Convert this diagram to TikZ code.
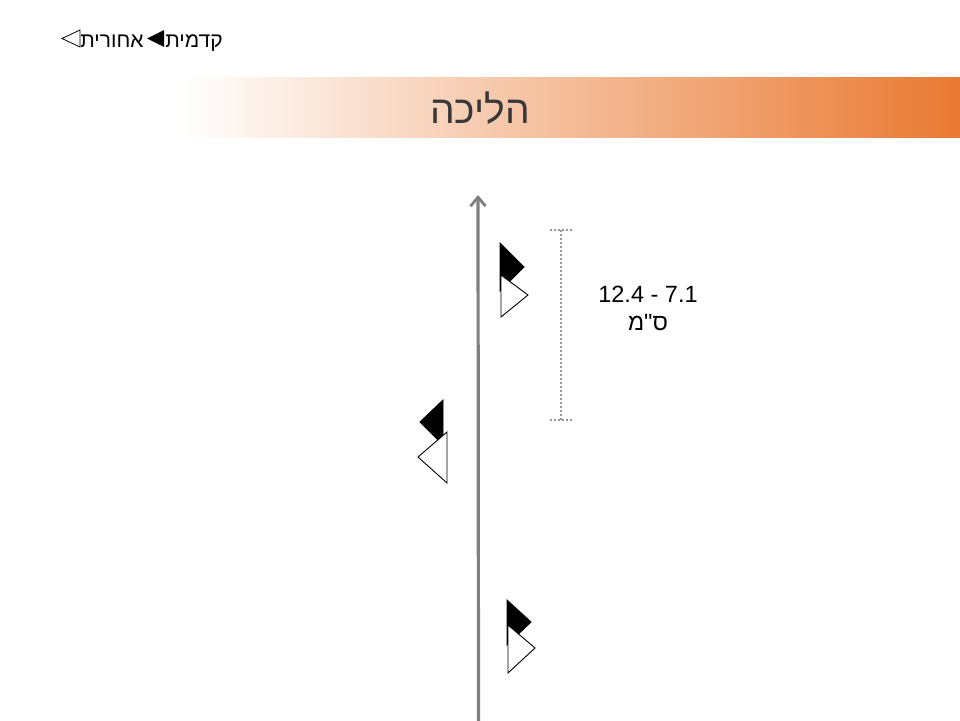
\documentclass[tikz,border=0pt]{standalone}
\usepackage{fontspec}
\setmainfont{Liberation Sans}
\newfontfamily\hebfont[Script=Hebrew]{Liberation Sans}
\usetikzlibrary{arrows.meta}
\TeXXeTstate=1
\definecolor{bannerorange}{RGB}{233,121,50}
\definecolor{axisgray}{RGB}{128,128,128}
\definecolor{dotgray}{RGB}{150,150,150}
\definecolor{titlegray}{RGB}{56,56,56}
\tikzset{
  blackfoot/.style={fill=black,draw=black,line width=0.9pt,line join=miter},
  whitefoot/.style={fill=white,draw=black,line width=0.9pt,line join=miter},
  navtext/.style={font=\hebfont\fontsize{21}{24}\selectfont,anchor=base,inner sep=0pt},
  measure/.style={font=\fontsize{23.5}{27}\selectfont,anchor=base,inner sep=0pt},
  dotline/.style={dotgray,line width=2pt,dash pattern=on 2pt off 2pt}
}
\begin{document}
\begin{tikzpicture}[x=1pt,y=-1pt]
\useasboundingbox (0,0) rectangle (960,720);
\fill[white] (0,0) rectangle (960,720);
% banner
\shade[left color=white,right color=bannerorange] (180,77) rectangle (960,137);
\node[font=\hebfont\fontsize{39}{44}\selectfont,text=titlegray,anchor=base,inner sep=0pt] (title) at (480,123) {\beginR הליכה\endR};
% navigation
\draw[black,line width=0.8pt,fill=white] (80,30) -- (62,38.5) -- (80,47) -- cycle;
\node[navtext] (back) at (112,47) {\beginR אחורית\endR};
\fill[black] (164,30) -- (147,38.5) -- (164,47) -- cycle;
\node[navtext] (front) at (194,47) {\beginR קדמית\endR};
% axis arrow
\coordinate (axbot) at (478.5,722);
\coordinate (axtop) at (478,195);
\draw[axisgray,line width=3.2pt,-{Straight Barb[length=9pt,width=15pt,line width=2.8pt]}] (axbot) -- (axtop);
% dotted bracket
\coordinate (bt1) at (550,230); \coordinate (bt2) at (572,230);
\coordinate (bb1) at (550,420); \coordinate (bb2) at (572,420);
\coordinate (bvt) at (561,230); \coordinate (bvb) at (561,420);
\draw[dotline] (bt1) -- (bt2);
\draw[dotline] (bb1) -- (bb2);
\draw[dotline] (bvt) -- (bvb);
% measurement text
\node[measure] (m1) at (648,302) {12.4 - 7.1};
\node[measure,font=\hebfont\fontsize{23.5}{27}\selectfont] (m2) at (648,330) {\beginR ס"מ\endR};
% footprint 1 (right, top)
\draw[blackfoot] (500,243) -- (524,267) -- (500,291) -- cycle;
\draw[whitefoot] (501,275) -- (528,295) -- (501,317) -- cycle;
% footprint 2 (left)
\draw[blackfoot] (443,400) -- (420,422) -- (443,445) -- cycle;
\draw[whitefoot] (447,432) -- (418,457) -- (447,483) -- cycle;
% footprint 3 (right, bottom)
\draw[blackfoot] (507,600) -- (531,622) -- (507,645) -- cycle;
\draw[whitefoot] (508,625) -- (535,648) -- (508,673) -- cycle;
\end{tikzpicture}
\end{document}
